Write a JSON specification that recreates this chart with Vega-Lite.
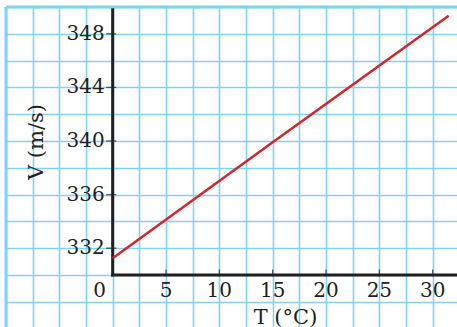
{
  "$schema": "https://vega.github.io/schema/vega-lite/v6.json",
  "width": 451,
  "height": 320,
  "padding": {"left": 6, "top": 7, "right": 0, "bottom": 0},
  "autosize": {"type": "none"},
  "background": "white",
  "config": {"view": {"stroke": null}},
  "datasets": {
    "speed": [{"t": 0, "v": 331.25}, {"t": 15, "v": 339.9}, {"t": 31.5, "v": 349.35}],
    "topBorder": [{"t": -10, "t2": 32.28, "v": 350}],
    "leftBorder": [{"t": -10, "v": 326.12, "v2": 350}],
    "yAxisLine": [{"t": 0, "v": 330, "v2": 349.8}],
    "xAxisLine": [{"t": 0, "t2": 32.28, "v": 330}],
    "xTicks": [{"t": 5, "v": 330}, {"t": 10, "v": 330}, {"t": 15, "v": 330}, {"t": 20, "v": 330}, {"t": 25, "v": 330}, {"t": 30, "v": 330}],
    "yTicks": [{"t": 0, "v": 332}, {"t": 0, "v": 336}, {"t": 0, "v": 340}, {"t": 0, "v": 344}, {"t": 0, "v": 348}],
    "xLabels": [{"t": 5, "v": 330, "label": "5"}, {"t": 10, "v": 330, "label": "10"}, {"t": 15, "v": 330, "label": "15"}, {"t": 20, "v": 330, "label": "20"}, {"t": 25, "v": 330, "label": "25"}, {"t": 30, "v": 330, "label": "30"}],
    "yLabels": [{"t": 0, "v": 332, "label": "332"}, {"t": 0, "v": 336, "label": "336"}, {"t": 0, "v": 340, "label": "340"}, {"t": 0, "v": 344, "label": "344"}, {"t": 0, "v": 348, "label": "348"}],
    "origin": [{"t": 0, "v": 330, "label": "0"}]
  },
  "encoding": {
    "x": {
      "field": "t",
      "type": "quantitative",
      "scale": {"domain": [-10, 32.28], "nice": false, "zero": false},
      "axis": {
        "orient": "bottom",
        "values": [-10, -7.5, -5, -2.5, 0, 2.5, 5, 7.5, 10, 12.5, 15, 17.5, 20, 22.5, 25, 27.5, 30, 32.5],
        "grid": true,
        "gridColor": "#7fd3f1",
        "gridWidth": 1.6,
        "labels": false,
        "ticks": false,
        "domain": false,
        "title": "T (°C)",
        "titleFont": "DejaVu Serif",
        "titleFontSize": 21,
        "titleFontWeight": "normal",
        "titleColor": "#231f20",
        "titleX": 279,
        "titleY": -4,
        "titleAlign": "center",
        "titleBaseline": "alphabetic",
        "zindex": 0
      }
    },
    "y": {
      "field": "v",
      "type": "quantitative",
      "scale": {"domain": [326.12, 350], "nice": false, "zero": false},
      "axis": {
        "orient": "left",
        "values": [328, 330, 332, 334, 336, 338, 340, 342, 344, 346, 348, 350],
        "grid": true,
        "gridColor": "#7fd3f1",
        "gridWidth": 1.6,
        "labels": false,
        "ticks": false,
        "domain": false,
        "title": "V (m/s)",
        "titleFont": "DejaVu Serif",
        "titleFontSize": 21,
        "titleFontWeight": "normal",
        "titleColor": "#231f20",
        "titleAngle": 270,
        "titleX": 36,
        "titleY": 134.5,
        "titleAlign": "center",
        "titleBaseline": "alphabetic",
        "zindex": 0
      }
    }
  },
  "layer": [
    {
      "data": {"name": "topBorder"},
      "mark": {"type": "rule", "color": "#7fd3f1", "strokeWidth": 3},
      "encoding": {"x2": {"field": "t2"}}
    },
    {
      "data": {"name": "leftBorder"},
      "mark": {"type": "rule", "color": "#7fd3f1", "strokeWidth": 3},
      "encoding": {"y2": {"field": "v2"}}
    },
    {
      "data": {"name": "yAxisLine"},
      "mark": {"type": "rule", "color": "#231f20", "strokeWidth": 3, "strokeCap": "square"},
      "encoding": {"y2": {"field": "v2"}}
    },
    {
      "data": {"name": "xAxisLine"},
      "mark": {"type": "rule", "color": "#231f20", "strokeWidth": 3, "strokeCap": "square"},
      "encoding": {"x2": {"field": "t2"}}
    },
    {
      "data": {"name": "xTicks"},
      "mark": {"type": "tick", "orient": "vertical", "color": "#231f20", "size": 7, "thickness": 1.3, "yOffset": -2},
      "encoding": {}
    },
    {
      "data": {"name": "yTicks"},
      "mark": {"type": "tick", "orient": "horizontal", "color": "#231f20", "size": 10, "thickness": 1.3, "xOffset": -1.5},
      "encoding": {}
    },
    {
      "data": {"name": "speed"},
      "mark": {"type": "line", "color": "#d3252c", "strokeWidth": 2.5},
      "encoding": {}
    },
    {
      "data": {"name": "xLabels"},
      "mark": {"type": "text", "font": "DejaVu Serif", "fontSize": 20, "color": "#231f20", "align": "center", "baseline": "middle", "dy": 16},
      "encoding": {"text": {"field": "label"}}
    },
    {
      "data": {"name": "yLabels"},
      "mark": {"type": "text", "font": "DejaVu Serif", "fontSize": 20, "color": "#231f20", "align": "right", "baseline": "middle", "dx": -8},
      "encoding": {"text": {"field": "label"}}
    },
    {
      "data": {"name": "origin"},
      "mark": {"type": "text", "font": "DejaVu Serif", "fontSize": 20, "color": "#231f20", "align": "center", "baseline": "middle", "dx": -13, "dy": 16},
      "encoding": {"text": {"field": "label"}}
    }
  ]
}
